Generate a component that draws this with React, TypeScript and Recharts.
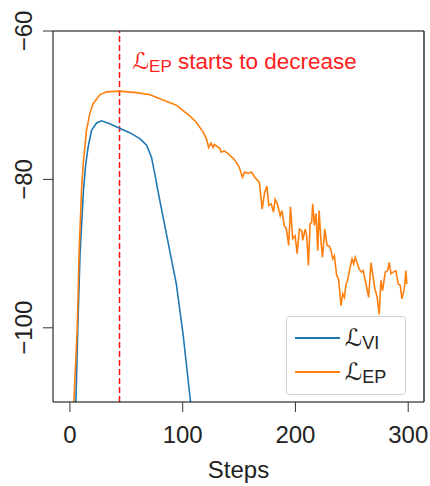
import React from "react";
import { LineChart, Line, XAxis, YAxis, ReferenceLine } from "recharts";

const viSteps = [4.5, 5.3, 7, 9, 12, 14, 16.2, 19.2, 23.6, 28, 35.4, 44, 53, 62, 68, 72.3, 75.2, 78, 88.5, 94.4, 100.3, 107, 109];
const viValues = [-116, -110, -100, -90, -81.5, -78, -75.6, -73.4, -72.4, -72.1, -72.5, -73.1, -73.7, -74.5, -75.4, -77.0, -79.2, -81.5, -89.6, -94.1, -100.8, -110, -112];

const epSteps = [3, 3.5, 6.5, 8.2, 10.3, 11.8, 14.7, 17.7, 20.6, 26.5, 32.5, 44, 59, 71, 82.6, 94.4, 100, 106, 112, 118, 121, 123, 125, 127, 128, 133, 134, 137, 140, 145, 147.5, 150, 153, 155, 158, 161, 164, 165, 168, 170.5, 172.5, 174.6, 176.4, 178.5, 180.5, 182, 184, 186.5, 188, 190, 192, 194, 195.6, 197.6, 199.7, 201.5, 203.5, 205.6, 206.5, 208.6, 210, 211.5, 213, 214.4, 215.3, 216.8, 218.3, 219.8, 221, 222.7, 224, 226, 228, 230, 231.6, 233, 234.5, 236.5, 238.3, 240.4, 241.9, 243.4, 244.9, 246.3, 248.4, 250.2, 251.6, 253, 255, 256.6, 258.7, 260, 262.6, 264.9, 267, 268.4, 270.5, 272.3, 274.3, 275.8, 277.3, 279.6, 281.7, 283.2, 284.7, 286.7, 289, 291.2, 293, 294.4, 296.5, 298, 298.8];
const epValues = [-114, -110, -100, -89.6, -81.5, -77.9, -73.4, -71.1, -69.8, -68.6, -68.2, -68.1, -68.3, -68.6, -69.3, -70.0, -70.7, -71.4, -72.3, -73.6, -74.5, -75.7, -75.1, -75.7, -75.3, -75.8, -76.3, -76.2, -76.5, -77.2, -77.7, -78.3, -79.7, -79.0, -79.2, -79.0, -79.7, -79.9, -80.4, -84.0, -81.9, -80.9, -83.5, -83.3, -84.4, -82.7, -83.3, -84.9, -84.2, -86.2, -86.7, -88.9, -83.7, -88.0, -87.6, -90.0, -86.7, -86.9, -88.2, -86.7, -87.6, -91.6, -86.0, -85.8, -83.3, -86.2, -84.6, -89.6, -84.2, -88.5, -90.5, -86.7, -88.9, -89.0, -89.6, -90.7, -90.3, -92.9, -93.5, -97.0, -95.4, -95.9, -94.1, -93.6, -91.9, -90.7, -91.4, -90.5, -91.4, -92.1, -92.5, -92.3, -94.1, -95.9, -91.2, -92.7, -94.8, -95.7, -98.2, -93.6, -95.0, -92.5, -92.3, -91.2, -92.7, -92.5, -92.3, -94.1, -94.3, -96.1, -94.8, -92.3, -94.1];

const xTicks = [0, 100, 200, 300];
const yTicks = [-100, -80, -60];
const xDomain = [-15, 314];
const yDomain = [-110, -60];
const decreaseStep = 44;
const seriesNames = ["VI", "EP"];

const viData = viSteps.map((s, i) => ({ step: s, value: viValues[i] }));
const epData = epSteps.map((s, i) => ({ step: s, value: epValues[i] }));

const FONT = "'Liberation Sans', Arial, sans-serif";
const BLUE = "#1f77b4";
const ORANGE = "#ff7f0e";

const CHART_W = 430;
const CHART_H = 486;
const MARGIN = { top: 30, right: 5, bottom: 0, left: 0 };
const Y_AXIS_W = 53;
const X_AXIS_H = 84;

const YTick = (props: any) => {
  const { x, y, payload } = props;
  const bx = x - 9;
  return (
    <text
      x={bx}
      y={y}
      transform={`rotate(-90, ${bx}, ${y})`}
      textAnchor="middle"
      fontFamily={FONT}
      fontSize={24}
      fill="#222"
    >
      {String(payload.value).replace("-", "\u2212")}
    </text>
  );
};

const LegendBox = () => (
  <svg width={121} height={80} style={{ display: "block" }}>
    <rect x={0.5} y={0.5} width={119} height={78} rx={3} fill="rgba(255,255,255,0.85)" stroke="#d0d0d0" />
    <line x1={9} x2={54} y1={22} y2={22} stroke={BLUE} strokeWidth={1.8} />
    <line x1={9} x2={54} y1={56} y2={56} stroke={ORANGE} strokeWidth={1.8} />
    <text x={59} y={30} fontFamily="'DejaVu Sans', sans-serif" fontSize={24} fill="#222">
      {"\u2112"}
      <tspan fontFamily={FONT} fontSize={18} dy={3}>{seriesNames[0]}</tspan>
    </text>
    <text x={59} y={64} fontFamily="'DejaVu Sans', sans-serif" fontSize={24} fill="#222">
      {"\u2112"}
      <tspan fontFamily={FONT} fontSize={18} dy={3}>{seriesNames[1]}</tspan>
    </text>
  </svg>
);

const Annotation = (props: any) => {
  const { viewBox } = props;
  const x = viewBox.x + 13;
  const y = viewBox.y + 38;
  return (
    <text x={x} y={y} fill="#ff2020" fontFamily={FONT} fontSize={22.5}>
      <tspan fontFamily="'DejaVu Sans', sans-serif" fontSize={23}>{"\u2112"}</tspan>
      <tspan fontSize={17} dy={3}>EP</tspan>
      <tspan dy={-3}>{" starts to decrease"}</tspan>
    </text>
  );
};

const XLabel = (props: any) => {
  const { viewBox } = props;
  return (
    <text
      x={viewBox.x + viewBox.width / 2}
      y={viewBox.y + 76}
      textAnchor="middle"
      fontFamily={FONT}
      fontSize={24}
      fill="#222"
    >
      Steps
    </text>
  );
};

export default function App() {
  return (
    <div style={{ position: "absolute", left: 0, top: 0, width: CHART_W, height: CHART_H, background: "#fff" }}>
      <LineChart width={CHART_W} height={CHART_H} margin={MARGIN}>
        <XAxis
          dataKey="step"
          type="number"
          domain={xDomain}
          ticks={xTicks}
          allowDataOverflow
          height={X_AXIS_H}
          tickSize={10}
          tickMargin={14}
          stroke="#000"
          tick={{ fontFamily: FONT, fontSize: 24, fill: "#222" }}
          tickLine={{ stroke: "#333" }}
          label={<XLabel />}
        />
        <XAxis
          xAxisId="top"
          orientation="top"
          dataKey="step"
          type="number"
          domain={xDomain}
          allowDataOverflow
          height={1}
          ticks={xTicks}
          tick={false}
          tickLine={false}
          axisLine={{ stroke: "#000", strokeWidth: 1.2 }}
        />
        <YAxis
          type="number"
          domain={yDomain}
          ticks={yTicks}
          allowDataOverflow
          width={Y_AXIS_W}
          tickSize={10}
          tickMargin={2}
          stroke="#000"
          tick={<YTick />}
          tickLine={{ stroke: "#333" }}
        />
        <YAxis
          yAxisId="right"
          orientation="right"
          type="number"
          domain={yDomain}
          allowDataOverflow
          width={1}
          ticks={yTicks}
          tick={false}
          tickLine={false}
          axisLine={{ stroke: "#000", strokeWidth: 1.2 }}
        />
        <ReferenceLine
          x={decreaseStep}
          stroke="#ff1010"
          strokeWidth={1.5}
          strokeDasharray="6 3"
          label={<Annotation />}
        />
        <Line
          data={viData}
          dataKey="value"
          type="linear"
          stroke={BLUE}
          strokeWidth={1.6}
          dot={false}
          isAnimationActive={false}
          name="VI"
        />
        <Line
          data={epData}
          dataKey="value"
          type="linear"
          stroke={ORANGE}
          strokeWidth={1.6}
          dot={false}
          isAnimationActive={false}
          name="EP"
        />
      </LineChart>
      <div style={{ position: "absolute", left: 286, top: 316 }}>
        <LegendBox />
      </div>
    </div>
  );
}
